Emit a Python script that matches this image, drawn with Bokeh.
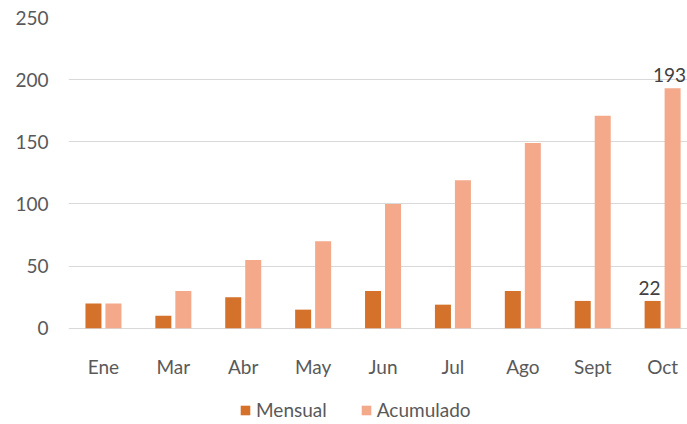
from bokeh.plotting import figure
from bokeh.models import ColumnDataSource, Range1d, Legend, LegendItem, LabelSet
from bokeh.core.properties import value
from bokeh.embed import file_html
from bokeh.resources import INLINE

months = ["Ene", "Mar", "Abr", "May", "Jun", "Jul", "Ago", "Sept", "Oct"]
mensual = [20, 10, 25, 15, 30, 19, 30, 22, 22]
acumulado = [20, 30, 55, 70, 100, 119, 149, 171, 193]
y_ticks = [0, 50, 100, 150, 200, 250]

C_M = "#D4712B"
C_A = "#F3A98A"
TXT = "#595959"
FONT = "Lato"
OFF = 0.143
BW = 0.229

idx = list(range(len(months)))
src = ColumnDataSource(dict(
    xm=[i - OFF for i in idx], xa=[i + OFF for i in idx],
    m=mensual, a=acumulado))

p = figure(width=687, height=424, output_backend="svg", toolbar_location=None,
           x_range=Range1d(-0.5, 8.356), y_range=Range1d(-77.4, 250),
           x_axis_location=None,
           min_border_left=68, min_border_top=17, min_border_right=0, min_border_bottom=0)
p.outline_line_color = None
p.background_fill_color = "white"

rm = p.vbar(x="xm", top="m", width=BW, source=src, fill_color=C_M, line_color=None)
ra = p.vbar(x="xa", top="a", width=BW, source=src, fill_color=C_A, line_color=None)

p.xgrid.grid_line_color = None
p.ygrid.grid_line_color = "#D9D9D9"
p.ygrid.grid_line_width = 1
p.ygrid.ticker = y_ticks

p.yaxis.ticker = y_ticks
p.yaxis.axis_line_color = None
p.yaxis.major_tick_line_color = None
p.yaxis.minor_tick_line_color = None
p.yaxis.major_label_text_font = FONT
p.yaxis.major_label_text_font_size = "19px"
p.yaxis.major_label_text_color = TXT
p.yaxis.major_label_standoff = 14

# category labels under the bars
cat_src = ColumnDataSource(dict(x=idx, y=[0] * len(idx), t=months))
p.add_layout(LabelSet(x="x", y="y", text="t", source=cat_src, text_align="center",
                      text_baseline="middle", y_offset=-38, text_font=value(FONT),
                      text_font_size="19px", text_color=TXT))

last = len(months) - 1
lab_src = ColumnDataSource(dict(
    x=[last - OFF, last + OFF],
    y=[mensual[last], acumulado[last]],
    t=[str(mensual[last]), str(acumulado[last])]))
p.add_layout(LabelSet(x="x", y="y", text="t", source=lab_src, text_align="center",
                      text_baseline="bottom", y_offset=6, x_offset=-3, text_font=value(FONT),
                      text_font_size="19px", text_color="#404040"))

legend = Legend(items=[LegendItem(label="Mensual", renderers=[rm]),
                       LegendItem(label="Acumulado", renderers=[ra])],
                orientation="horizontal", location=(171, 3),
                border_line_color=None, background_fill_alpha=0,
                glyph_width=12, glyph_height=12, label_standoff=5, spacing=33,
                label_text_font=FONT, label_text_font_size="19px",
                label_text_color=TXT, padding=0, margin=0)
p.add_layout(legend, "center")

open("out.html", "w").write(file_html(p, INLINE))
